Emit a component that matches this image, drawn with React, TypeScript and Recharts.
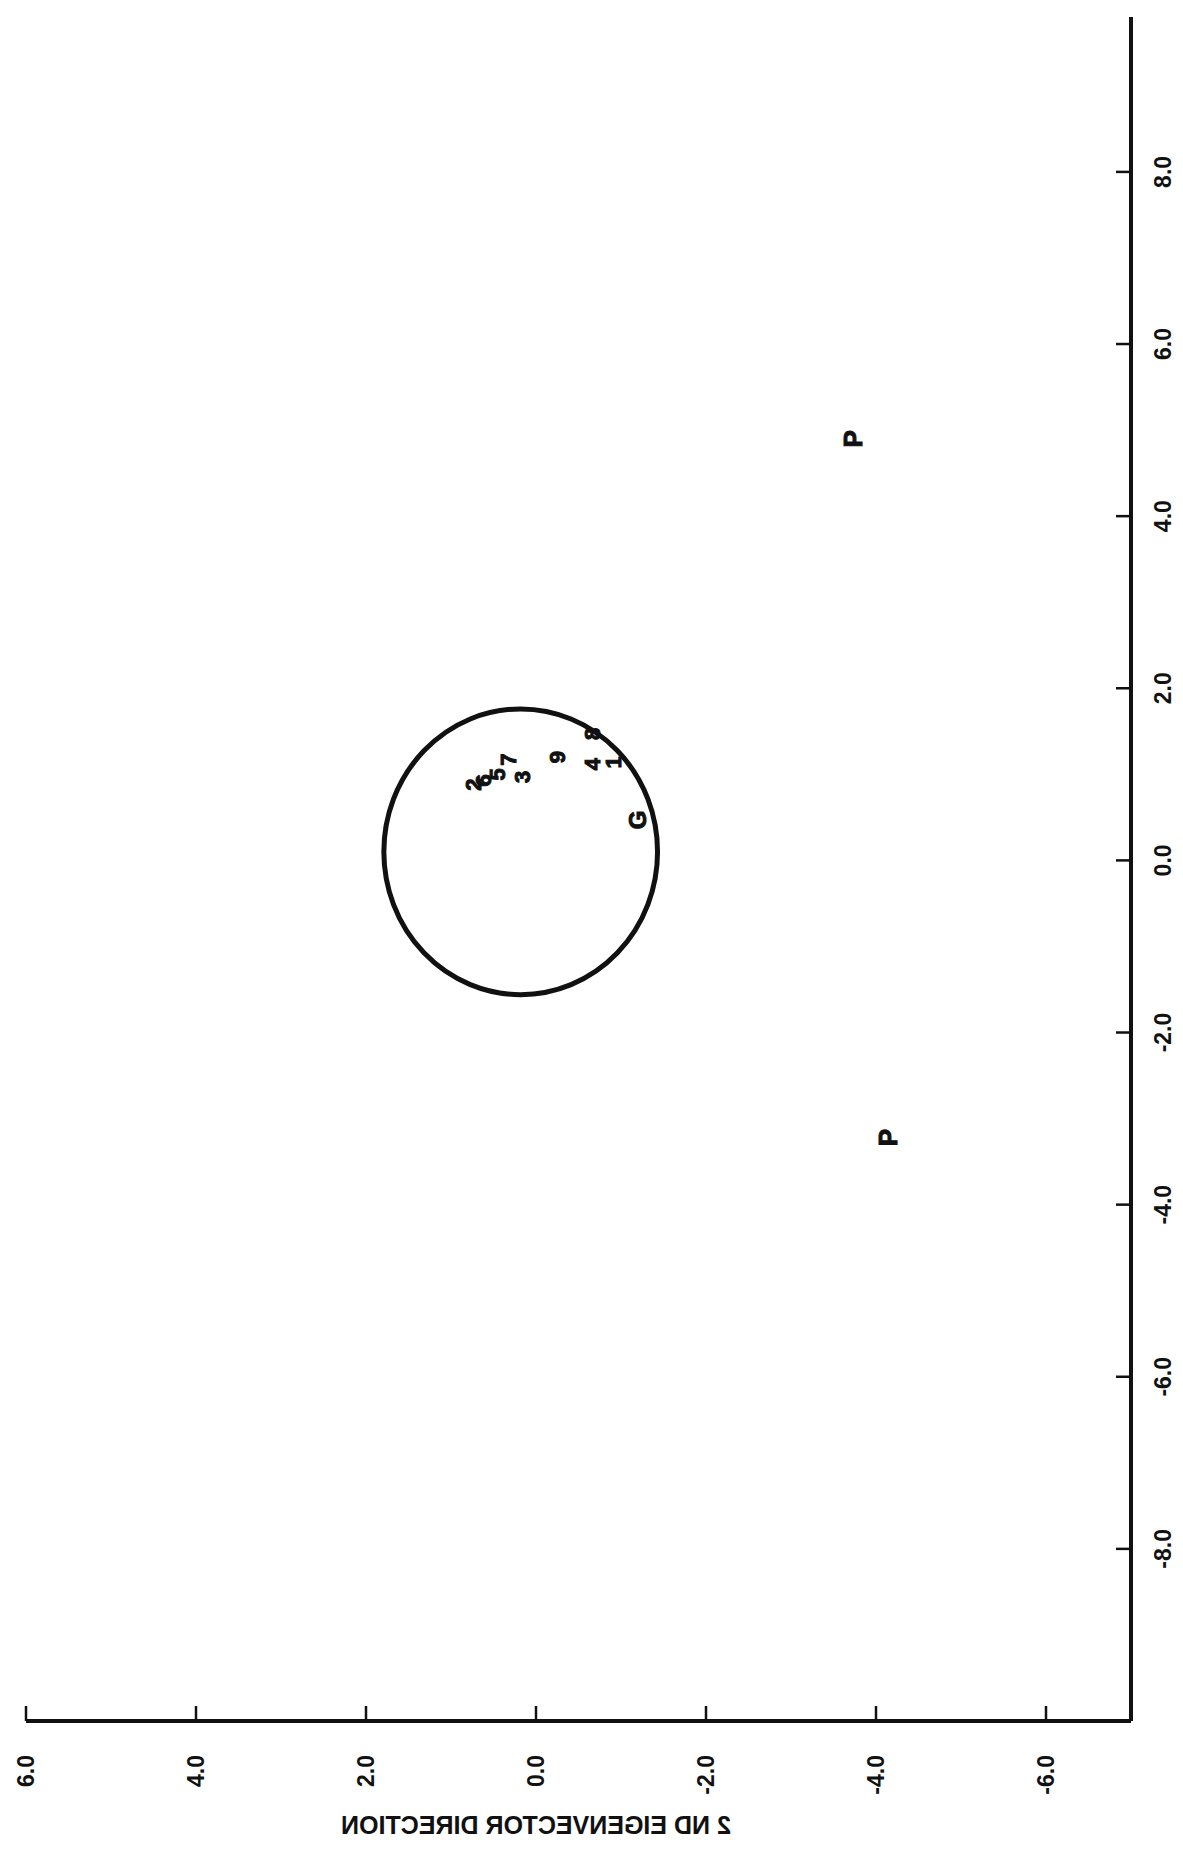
import { ScatterChart, Scatter, XAxis, YAxis, ReferenceDot, Label } from "recharts";

// eigenvector scores
const pointLabels = ["2", "6", "5", "7", "3", "9", "4", "8", "1", "G", "P", "P"];
const eig1 = [0.88, 0.93, 1.0, 1.17, 0.97, 1.2, 1.12, 1.47, 1.14, 0.47, 4.9, -3.22];
const eig2 = [0.74, 0.62, 0.46, 0.33, 0.16, -0.25, -0.66, -0.66, -0.91, -1.19, -3.73, -4.14];

const xTicks = [-8, -6, -4, -2, 0, 2, 4, 6, 8];
const yTicks = [-6, -4, -2, 0, 2, 4, 6];

// circle drawn round the cluster (center + radius along each axis)
const circleCenter = [0.1, 0.18];
const circleRadius = [1.66, 1.61];

const X_MIN = -10;
const X_MAX = 9.8;
const Y_MIN = -7;
const Y_MAX = 6;

const CHART_W = 1854;
const CHART_H = 1183;
const MARGIN = { top: 26, right: 17, bottom: 0, left: 0 };
const Y_AXIS_W = 133;
const X_AXIS_H = 52;
const PLOT_W = CHART_W - MARGIN.left - MARGIN.right - Y_AXIS_W;
const PLOT_H = CHART_H - MARGIN.top - MARGIN.bottom - X_AXIS_H;

const FONT = "'Liberation Sans', Arial, sans-serif";
const INK = "#111";

const data = pointLabels.map((label, i) => ({ x: eig1[i], y: eig2[i], label }));

const fmt = (v: number) => v.toFixed(1);

function XTick({ x, y, payload }: any) {
  return (
    <g>
      <line x1={x} x2={x} y1={y} y2={y - 15} stroke={INK} strokeWidth={2.5} />
      <text x={x} y={y + 40} textAnchor="middle" fontFamily={FONT} fontWeight="bold" fontSize={23} fill={INK}>
        {fmt(payload.value)}
      </text>
    </g>
  );
}

function YTick({ x, y, payload }: any) {
  return (
    <g>
      <line x1={x} x2={x + 15} y1={y} y2={y} stroke={INK} strokeWidth={2.5} />
      <text x={x - 34} y={y} dy="0.36em" textAnchor="end" fontFamily={FONT} fontWeight="bold" fontSize={23} fill={INK}>
        {fmt(payload.value)}
      </text>
    </g>
  );
}

function PointLabel(props: any) {
  const { cx, cy, payload } = props;
  const size = payload.label === "P" ? 26 : payload.label === "G" ? 24 : 22;
  return (
    <text
      x={cx}
      y={cy}
      dy="0.36em"
      textAnchor="middle"
      fontFamily={FONT}
      fontWeight="bold"
      fontSize={size}
      fill={INK}
      stroke={INK}
      strokeWidth={1}
    >
      {payload.label}
    </text>
  );
}

function CircleShape({ cx, cy }: any) {
  const rx = circleRadius[0] * (PLOT_W / (X_MAX - X_MIN));
  const ry = circleRadius[1] * (PLOT_H / (Y_MAX - Y_MIN));
  return <ellipse cx={cx} cy={cy} rx={rx} ry={ry} fill="none" stroke={INK} strokeWidth={5} />;
}

function AxisTitle({ viewBox }: any) {
  const vb = viewBox || { x: 0, y: MARGIN.top, width: Y_AXIS_W, height: PLOT_H };
  const cy = vb.y + ((Y_MAX - 0) / (Y_MAX - Y_MIN)) * vb.height;
  // the pasted-on title comes out mirrored in the scan
  return (
    <text
      transform={`translate(29, ${cy}) matrix(0,-1,-1,0,0,0)`}
      textAnchor="middle"
      dy="0.36em"
      fontFamily={FONT}
      fontWeight="bold"
      fontSize={25}
      fill={INK}
    >
      2 ND EIGENVECTOR DIRECTION
    </text>
  );
}

export default function App() {
  return (
    <div
      style={{
        position: "absolute",
        left: 0,
        top: 0,
        width: 1183,
        height: 1854,
        overflow: "hidden",
        background: "#fff",
      }}
    >
      <div
        style={{
          width: CHART_W,
          height: CHART_H,
          transformOrigin: "0 0",
          transform: `translate(0px, ${CHART_W}px) rotate(-90deg)`,
        }}
      >
        <ScatterChart width={CHART_W} height={CHART_H} margin={MARGIN}>
          <XAxis
            type="number"
            dataKey="x"
            domain={[X_MIN, X_MAX]}
            ticks={xTicks}
            allowDataOverflow
            height={X_AXIS_H}
            tickSize={0}
            tickMargin={0}
            tickLine={false}
            axisLine={{ stroke: INK, strokeWidth: 4 }}
            tick={<XTick />}
            interval={0}
          />
          <YAxis
            type="number"
            dataKey="y"
            domain={[Y_MIN, Y_MAX]}
            ticks={yTicks}
            allowDataOverflow
            width={Y_AXIS_W}
            tickSize={0}
            tickMargin={0}
            tickLine={false}
            axisLine={{ stroke: INK, strokeWidth: 4 }}
            tick={<YTick />}
            interval={0}
          >
            <Label content={<AxisTitle />} />
          </YAxis>
          <ReferenceDot
            x={circleCenter[0]}
            y={circleCenter[1]}
            r={10}
            ifOverflow="visible"
            shape={<CircleShape />}
          />
          <Scatter data={data} shape={<PointLabel />} isAnimationActive={false} />
        </ScatterChart>
      </div>
    </div>
  );
}
